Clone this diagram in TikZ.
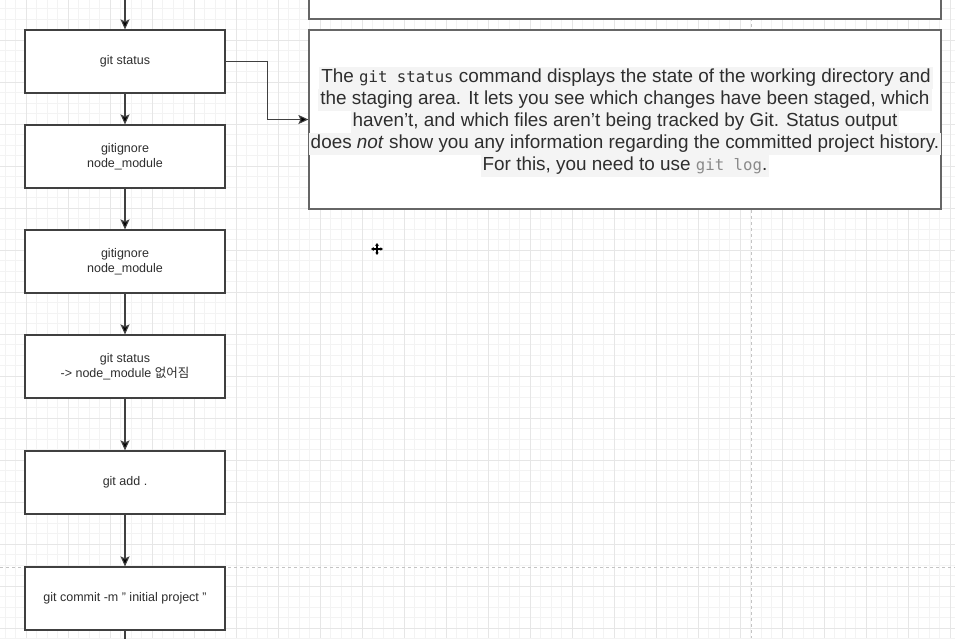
\documentclass[tikz,border=0pt]{standalone}
\usepackage{fontspec}
\setmainfont{Liberation Sans}
\newfontfamily\krfont{Noto Sans CJK KR}
\newfontfamily\codefont[Scale=0.83]{DejaVu Sans Mono}
\usetikzlibrary{arrows.meta}
\definecolor{ink}{HTML}{2E2E2E}
\definecolor{edgec}{HTML}{404040}
\definecolor{edgeb}{HTML}{666666}
\definecolor{minorc}{HTML}{F3F3F3}
\definecolor{majorc}{HTML}{E6E6E6}
\definecolor{hl}{HTML}{F4F4F4}
\definecolor{pagec}{HTML}{C4C4C4}
\definecolor{codegray}{HTML}{8A8A8A}
\begin{document}
\begin{tikzpicture}[x=1pt,y=-1pt,
  stepbox/.style={draw=edgec, line width=1.2pt, fill=white, minimum width=200pt,
    minimum height=63pt, inner sep=0pt, align=center, text=ink,
    font=\fontsize{12.5}{15}\selectfont},
  descbox/.style={draw=edgeb, line width=1.2pt, fill=white, minimum width=632pt,
    inner sep=0pt},
  flow/.style={draw=edgec, line width=1.1pt, -{Stealth[length=10pt,width=9pt,inset=2pt,fill=black]}},
  plain/.style={draw=edgec, line width=1.1pt},
  txtline/.style={fill=hl, inner xsep=2pt, inner ysep=0pt, minimum height=22pt,
    text height=14pt, text depth=5pt, text=ink, font=\fontsize{18.9}{22}\selectfont},
  minorgrid/.style={draw=minorc, line width=0.8pt},
  majorgrid/.style={draw=majorc, line width=0.9pt},
  pagebreak/.style={draw=pagec, line width=0.9pt, dash pattern=on 3pt off 3pt}]
\useasboundingbox (0,0) rectangle (955,638);
\clip (0,0) rectangle (955,638);
\fill[white] (0,0) rectangle (955,638);
% grid
\foreach \k in {-3,...,89} \draw[minorgrid] ({26+10.5*\k},0) -- ({26+10.5*\k},638);
\foreach \k in {0,...,62} \draw[minorgrid] (0,{-2+10.5*\k}) -- (955,{-2+10.5*\k});
\foreach \k in {-1,...,22} \draw[majorgrid] ({26+42*\k},0) -- ({26+42*\k},638);
\foreach \k in {0,...,16} \draw[majorgrid] (0,{-2+42*\k}) -- (955,{-2+42*\k});
% page breaks
\draw[pagebreak] (751,0) -- (751,638);
\draw[pagebreak] (0,567) -- (955,567);
% right boxes
\node[descbox, minimum height=100pt] (prev) at (625,-31) {};
\node[descbox, minimum height=179pt] (desc) at (625,119.5) {};
\node[txtline] (t1) at (626,78) {The {\codefont git status} command displays the state of the working directory and};
\node[txtline] (t2) at (625,100) {the staging area. It lets you see which changes have been staged, which};
\node[txtline] (t3) at (625,122) {haven’t, and which files aren’t being tracked by Git. Status output};
\node[txtline] (t4) at (625,144) {does \textit{not} show you any information regarding the committed project history.};
\node[txtline] (t5) at (625,166) {For this, you need to use {\codefont\color{codegray}git log}.};
% left column
\node[stepbox] (b1) at (125,61.5) {git status};
\node[stepbox] (b2) at (125,156.5) {gitignore\\node\_module};
\node[stepbox] (b3) at (125,261.5) {gitignore\\node\_module};
\node[stepbox] (b4) at (125,366.5) {git status\\-> node\_module {\krfont 없어짐}};
\node[stepbox] (b5) at (125,482.5) {git add .};
\node[stepbox] (b6) at (125,598.5) {git commit -m " initial project "};
\coordinate (cin) at (125,-5);
\coordinate (cout) at (125,645);
\draw[flow] (cin) -- (b1);
\draw[flow] (b1) -- (b2);
\draw[flow] (b2) -- (b3);
\draw[flow] (b3) -- (b4);
\draw[flow] (b4) -- (b5);
\draw[flow] (b5) -- (b6);
\draw[plain] (b6) -- (cout);
\draw[flow] (b1.east) -- ++(42,0) |- (desc.west);
% cursor
\draw[line width=1.5pt, {Latex[length=2.5pt,width=4pt]}-{Latex[length=2.5pt,width=4pt]}] (371,249) -- (383,249);
\draw[line width=1.5pt, {Latex[length=2.5pt,width=4pt]}-{Latex[length=2.5pt,width=4pt]}] (377,243) -- (377,255);
\end{tikzpicture}
\end{document}
